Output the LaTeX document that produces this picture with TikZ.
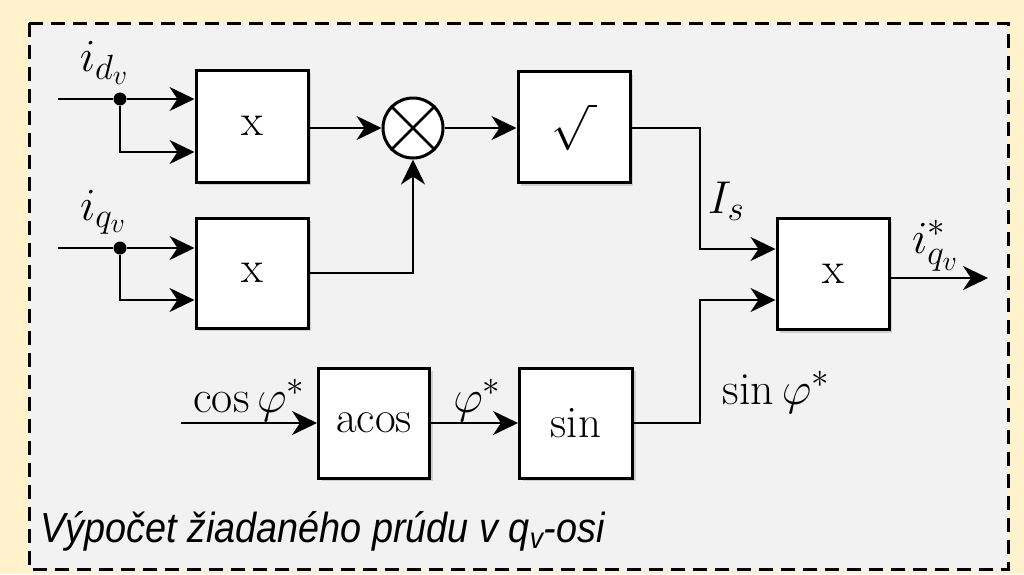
\RequirePackage{fix-cm}
\documentclass[tikz,border=0pt]{standalone}
\usepackage{fontspec}
\newfontfamily\capfont{Liberation Sans}
\DeclareMathSizes{46}{46}{35}{28}
\usetikzlibrary{arrows.meta,shadows}
\definecolor{bgyellow}{HTML}{FFF2CC}
\definecolor{panelgray}{HTML}{F2F2F2}
\begin{document}
\begin{tikzpicture}[x=1pt,y=-1pt,
  blk/.style={draw=black, line width=3pt, fill=white, minimum width=112pt, minimum height=112pt,
    inner sep=0pt, font=\fontsize{45}{52}\selectfont,
    drop shadow={opacity=0.3,shadow xshift=3pt,shadow yshift=-3pt}},
  mult/.style={circle, draw=black, line width=3pt, fill=white, minimum size=60pt, inner sep=0pt},
  arr/.style={line width=2.5pt, -{Stealth[length=25pt,width=24pt,inset=8pt]}},
  wire/.style={line width=2.5pt},
  lbl/.style={font=\fontsize{46}{54}\selectfont, inner sep=0pt},
  junction/.style={circle, fill=black, minimum size=13pt, inner sep=0pt}
]
\useasboundingbox (0,0) rectangle (1024,574);
\fill[bgyellow] (0,0) rectangle (1024,574);
\draw[line width=3pt, dash pattern=on 14pt off 8pt, fill=panelgray] (29,23) rectangle (1008,569);

% blocks
\node[blk] (m1) at (252,126) {x};
\node[blk, minimum height=110pt] (m2) at (252,273) {x};
\node[mult] (c) at (413,128) {};
\draw[wire] (c.45) -- (c.225) (c.135) -- (c.315);
\node[blk, minimum height=111pt] (sq) at (574,127) {$\sqrt{\hspace{8pt}}$};
\node[blk, minimum height=111pt] (m3) at (833,274) {x};
\node[blk, minimum width=111pt, minimum height=110pt] (ac) at (374,423) {acos};
\node[blk, minimum width=113pt, minimum height=110pt] (sn) at (576,423) {sin};

% coordinates
\coordinate (inA) at (58,99);
\node[junction] (jA) at (120,99) {};
\coordinate (inB) at (58,248);
\node[junction] (jB) at (120,248) {};
\coordinate (inC) at (181,423);
\coordinate (out) at (988,278);
\coordinate (tapA) at (m1.west |- 0,152);
\coordinate (tapB) at (m2.west |- 0,300);
\coordinate (m3a) at (m3.west |- 0,249);
\coordinate (m3b) at (m3.west |- 0,300);
\coordinate (bendA) at (700,128);
\coordinate (bendB) at (700,423);

% connectors
\draw[wire] (inA) -- (jA);
\draw[arr] (jA) -- (m1.west |- jA);
\draw[arr] (jA) |- (tapA);
\draw[wire] (inB) -- (jB);
\draw[arr] (jB) -- (m2.west |- jB);
\draw[arr] (jB) |- (tapB);
\draw[arr] (m1.east |- c) -- (c.west);
\draw[arr] (m2.east) -| (c.south);
\draw[arr] (c.east) -- (sq.west |- c);
\draw[arr] (sq.east |- bendA) -- (bendA) |- (m3a);
\draw[arr] (inC) -- (ac.west);
\draw[arr] (ac.east) -- (sn.west);
\draw[arr] (sn.east) -- (bendB) |- (m3b);
\draw[arr] (m3.east |- out) -- (out);

% labels
\node[lbl] (lA) at (104,63) {$i_{d_v}$};
\node[lbl] (lB) at (103,212) {$i_{q_v}$};
\node[lbl] (lIs) at (726,201) {$I_s$};
\node[lbl] (lout) at (935,246) {$i^*_{q_v}$};
\node[lbl, anchor=base] (lcos) at (249,412) {$\cos\varphi^*$};
\node[lbl, anchor=base] (lphi) at (477,412) {$\varphi^*$};
\node[lbl, anchor=base] (lsin) at (776,404) {$\sin\varphi^*$};

\node[anchor=base west, inner sep=0pt, font=\capfont\itshape\fontsize{42}{50}\selectfont] (cap) at (40,542)
  {\scalebox{0.9}[1]{Výpočet žiadaného prúdu v q\textsubscript{v}-osi}};
\end{tikzpicture}
\end{document}
